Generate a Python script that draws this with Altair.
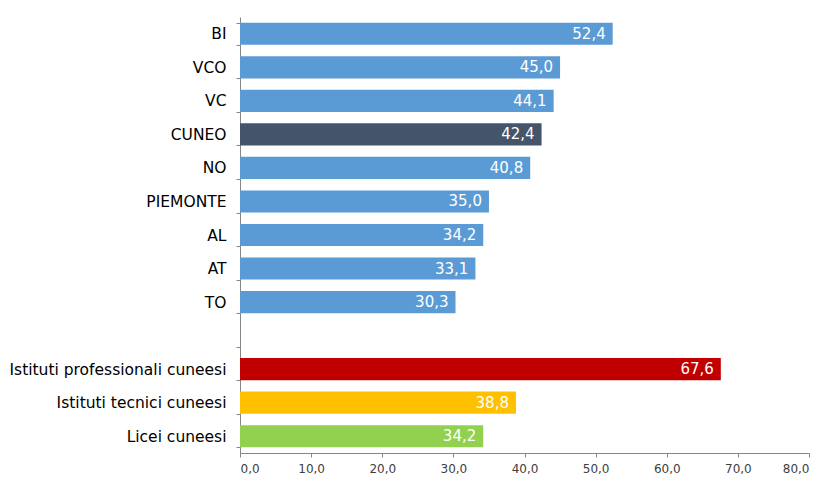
import altair as alt
import pandas as pd

categories = ["BI", "VCO", "VC", "CUNEO", "NO", "PIEMONTE", "AL", "AT", "TO", " ",
              "Istituti professionali cuneesi", "Istituti tecnici cuneesi", "Licei cuneesi"]
values = [52.4, 45.0, 44.1, 42.4, 40.8, 35.0, 34.2, 33.1, 30.3, None, 67.6, 38.8, 34.2]
colors = ["#5B9BD5", "#5B9BD5", "#5B9BD5", "#44546A", "#5B9BD5", "#5B9BD5", "#5B9BD5",
          "#5B9BD5", "#5B9BD5", "#FFFFFF", "#C00000", "#FFC000", "#92D050"]
x_ticks = [0, 10, 20, 30, 40, 50, 60, 70, 80]

df = pd.DataFrame({"cat": categories, "val": values})
df = df[df["val"].notna()]
df["lab"] = df["val"].map(lambda v: f"{v:.1f}".replace(".", ","))

FONT = "DejaVu Sans"

y_enc = alt.Y("cat:N", sort=categories,
              scale=alt.Scale(domain=categories, paddingInner=0.34, paddingOuter=0.17),
              axis=alt.Axis(title=None, ticks=True, tickBand="extent", tickSize=4,
                            tickColor="#868686", domainColor="#868686",
                            labelFont=FONT, labelFontSize=15.5, labelColor="#000000",
                            labelPadding=10, labelLimit=400))
x_enc = alt.X("val:Q", scale=alt.Scale(domain=[0, 80], nice=False),
              axis=alt.Axis(title=None, values=x_ticks, grid=False, domainColor="#868686",
                            tickColor="#868686", tickSize=4, labelFont=FONT, labelFontSize=12,
                            labelColor="#404040", labelPadding=6,
                            labelExpr="replace(format(datum.value, '.1f'), '.', ',')"))

bars = alt.Chart(df).mark_bar().encode(
    y=y_enc, x=x_enc,
    color=alt.Color("cat:N", scale=alt.Scale(domain=categories, range=colors), legend=None),
)
text = alt.Chart(df).mark_text(align="right", baseline="middle", dx=-7, color="white",
                               font=FONT, fontSize=15).encode(
    y=alt.Y("cat:N", sort=categories), x="val:Q", text="lab:N")

chart = (bars + text).properties(
    width=569, height=436,
    background="white",
    autosize=alt.AutoSizeParams(type="none"),
    padding={"left": 232, "top": 9, "right": 20, "bottom": 30},
).configure_view(stroke=None)

chart.save("out.html", embed_options={"renderer": "svg", "actions": False})
